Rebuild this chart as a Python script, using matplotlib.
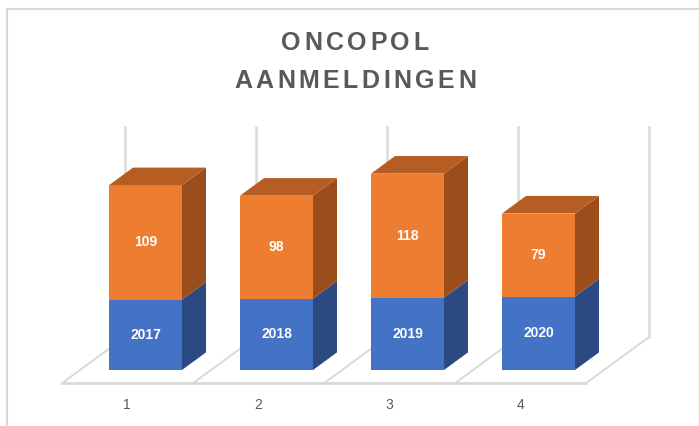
import matplotlib
matplotlib.use("Agg")
import matplotlib.pyplot as plt
from matplotlib.patches import Polygon
from matplotlib.lines import Line2D

# Data
categories = [1, 2, 3, 4]
years = [2017, 2018, 2019, 2020]
registrations = [109, 98, 118, 79]
tick_labels = ["1", "2", "3", "4"]
title_lines = ["ONCOPOL", "AANMELDINGEN"]

# Value axis range (Excel auto scale)
AXIS_MIN, AXIS_MAX = 1950, 2150

# Layout constants (pixels)
W, H = 699, 426
PX_PER_CAT = 131
PX_PER_VAL = 1.05
X0_PX = 145.5    # centre of first bar front face
Y0_PX = 370      # AXIS_MIN on the bar front plane
DEPTH_DX = 24 / PX_PER_CAT
DEPTH_DV = 17.6 / PX_PER_VAL
BAR_W = 73 / PX_PER_CAT
FLOOR_FRONT, FLOOR_BACK = -0.767, 1.86

BLUE, BLUE_SIDE = "#4472C4", "#2C4A82"
ORANGE, ORANGE_SIDE, ORANGE_TOP = "#ED7D31", "#9C4D1C", "#B55D22"
GRID = "#D9D9D9"
TEXT = "#595959"
FONT = "Liberation Sans"


def proj(x, v, d):
    '''Oblique projection: shift a point back by depth d.'''
    return x + d * DEPTH_DX, v + d * DEPTH_DV


fig = plt.figure(figsize=(W / 100, H / 100), dpi=100)
ax = fig.add_axes([0, 0, 1, 1])
ax.set_xlim(categories[0] - X0_PX / PX_PER_CAT,
            categories[0] + (W - X0_PX) / PX_PER_CAT)
ax.set_ylim(AXIS_MIN - (H - Y0_PX) / PX_PER_VAL,
            AXIS_MIN + Y0_PX / PX_PER_VAL)
ax.axis("off")

# Floor and back wall gridlines
bounds = [c - 0.5 for c in categories] + [categories[-1] + 0.5]
for b in bounds:
    x0, v0 = proj(b, AXIS_MIN, FLOOR_FRONT)
    x1, v1 = proj(b, AXIS_MIN, FLOOR_BACK)
    x2, v2 = proj(b, AXIS_MAX, FLOOR_BACK)
    ax.plot([x0, x1], [v0, v1], color=GRID, lw=1.4, zorder=1)
    ax.plot([x1, x2], [v1, v2], color=GRID, lw=1.8, zorder=1)
xa, va = proj(bounds[0], AXIS_MIN, FLOOR_FRONT)
xb, vb = proj(bounds[-1], AXIS_MIN, FLOOR_FRONT)
ax.plot([xa, xb], [va, vb], color=GRID, lw=2.0, zorder=1)

# Bars: front faces
blue_h = [y - AXIS_MIN for y in years]
ax.bar(categories, blue_h, bottom=AXIS_MIN, width=BAR_W, color=BLUE, zorder=3)
ax.bar(categories, registrations, bottom=years, width=BAR_W, color=ORANGE, zorder=3)

# Side and top faces
for c, y, r in zip(categories, years, registrations):
    xl, xr = c - BAR_W / 2, c + BAR_W / 2
    for lo, hi, col in [(AXIS_MIN, y, BLUE_SIDE), (y, y + r, ORANGE_SIDE)]:
        pts = [proj(xr, lo, 0), proj(xr, lo, 1), proj(xr, hi, 1), proj(xr, hi, 0)]
        ax.add_patch(Polygon(pts, closed=True, facecolor=col, edgecolor="none", zorder=3))
    top = y + r
    pts = [proj(xl, top, 0), proj(xr, top, 0), proj(xr, top, 1), proj(xl, top, 1)]
    ax.add_patch(Polygon(pts, closed=True, facecolor=ORANGE_TOP, edgecolor="none", zorder=3))

    # Data labels
    ax.text(c, (AXIS_MIN + y) / 2, str(y), ha="center", va="center",
            color="white", fontsize=10, fontweight="bold", family=FONT, zorder=4)
    ax.text(c, y + r / 2, str(r), ha="center", va="center",
            color="white", fontsize=10, fontweight="bold", family=FONT, zorder=4)

# Category labels under the floor
for c, lab in zip(categories, tick_labels):
    x, v = proj(c, AXIS_MIN, FLOOR_FRONT)
    ax.text(x, v - 21.5 / PX_PER_VAL, lab, ha="center", va="center",
            color=TEXT, fontsize=10, family=FONT)

# Title with letter spacing, drawn char by char
renderer = fig.canvas.get_renderer()
title_kw = dict(fontsize=18, fontweight="bold", family=FONT, color=TEXT)


def char_widths(line):
    widths = []
    for ch in line:
        t = fig.text(0, 0, ch, **title_kw)
        widths.append(t.get_window_extent(renderer).width)
        t.remove()
    return widths


# spacing chosen so the long line spans about 242 px as in the original
long_w = char_widths(title_lines[1])
tracking = (242 - sum(long_w)) / (len(title_lines[1]) - 1)
for line, y_px in zip(title_lines, [43, 81]):
    widths = char_widths(line)
    total = sum(widths) + tracking * (len(line) - 1)
    x = 355 - total / 2
    for ch, w in zip(line, widths):
        fig.text(x / W, 1 - y_px / H, ch, ha="left", va="center", **title_kw)
        x += w + tracking

# Chart frame
fig.add_artist(Line2D([7 / W, 7 / W], [0, 1 - 9 / H], transform=fig.transFigure,
                      color=GRID, lw=1.5))
fig.add_artist(Line2D([7 / W, 1], [1 - 9 / H, 1 - 9 / H], transform=fig.transFigure,
                      color=GRID, lw=1.5))

fig.savefig("out.png", dpi=100)
